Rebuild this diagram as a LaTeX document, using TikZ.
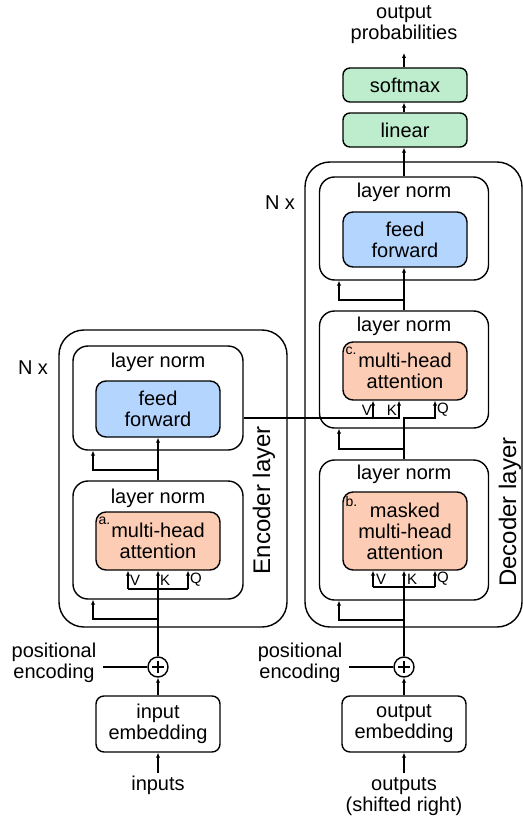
\documentclass[tikz,border=0pt]{standalone}
\usepackage{fontspec}
\setmainfont{Liberation Sans}
\usetikzlibrary{arrows.meta,calc}

\definecolor{ffblue}{RGB}{180,213,253}
\definecolor{attnorange}{RGB}{252,204,181}
\definecolor{outgreen}{RGB}{189,237,205}

\tikzset{
  every node/.style={font=\fontsize{20bp}{21bp}\selectfont, inner sep=0pt, align=center},
  wire/.style={line width=1.4bp},
  arr/.style={line width=1.4bp, -{Latex[length=5bp,width=4.5bp]}},
  layerbox/.style={draw, line width=1.4bp, rounded corners=25bp},
  normbox/.style={draw, line width=1.4bp, rounded corners=15bp},
  attnbox/.style={draw, line width=1.4bp, rounded corners=10bp, fill=attnorange},
  ffbox/.style={draw, line width=1.4bp, rounded corners=10bp, fill=ffblue},
  headbox/.style={draw, line width=1.4bp, rounded corners=7bp, fill=outgreen},
  embbox/.style={draw, line width=1.4bp, rounded corners=8bp},
  addnode/.style={draw, circle, line width=1.4bp, minimum size=20bp},
  port/.style={font=\fontsize{15bp}{15bp}\selectfont},
  tag/.style={font=\fontsize{14bp}{14bp}\selectfont, anchor=north west},
  sidelabel/.style={font=\fontsize{24bp}{24bp}\selectfont, rotate=90},
}

\begin{document}
\begin{tikzpicture}[x=1bp,y=-1bp]
\useasboundingbox (0,0) rectangle (523,818);

% ---------------- encoder ----------------
\node[layerbox, minimum width=228bp, minimum height=297bp] (encOuter) at (173,478.5) {};
\node (encN) at (33,368) {N x};
\node[sidelabel] (encSide) at (264,500) {Encoder layer};

\node[normbox, minimum width=170bp, minimum height=104bp] (encLNb) at (158,398) {};
\node (encLNbt) at ($(encLNb.north)+(0,17)$) {layer norm};
\node[ffbox, minimum width=124bp, minimum height=56bp] (encFF) at (158,409) {feed\\forward};

\node[normbox, minimum width=170bp, minimum height=118bp] (encLNa) at (158,540) {};
\node (encLNat) at ($(encLNa.north)+(0,18)$) {layer norm};
\node[attnbox, minimum width=124bp, minimum height=58bp] (encMHA) at (158,541) {multi-head\\attention};
\node[tag] (encTag) at ($(encMHA.north west)+(3,5)$) {a.};

\node[addnode] (encAdd) at (158,667) {};
\draw[wire] ($(encAdd)+(-6,0)$) -- ($(encAdd)+(6,0)$);
\draw[wire] ($(encAdd)+(0,-6)$) -- ($(encAdd)+(0,6)$);
\node (encPos) at (54,663) {positional\\encoding};
\coordinate (encPosEnd) at (103,667);

\node[embbox, minimum width=124bp, minimum height=56bp] (encEmb) at (158,724) {input\\embedding};
\node (encIn) at (158,785) {inputs};
\coordinate (encInTip) at (158,773);

% input side
\draw[arr] (encInTip) -- (encEmb.south);
\draw[arr] (encEmb.north) -- (encAdd.south);
\draw[wire] (encPosEnd) -- (encAdd.west);

% attention inputs V, K, Q
\draw[arr] (encAdd.north) -- (encMHA.south);
\coordinate (encV) at (128,589);
\coordinate (encQ) at (188,589);
\draw[wire] (encV) -- (encQ);
\draw[arr] (encV) -- (encV |- encMHA.south);
\draw[arr] (encQ) -- (encQ |- encMHA.south);
\node[port, anchor=west] (encVl) at (130,580) {V};
\node[port, anchor=west] (encKl) at (160,580) {K};
\node[port, anchor=west] (encQl) at (190,580) {Q};

% residual into first norm
\coordinate (encR1) at (93,619);
\draw[arr] (encR1 -| encAdd) -- (encR1) -- (encR1 |- encLNa.south);

% sublayer 1 -> feed forward, with residual
\draw[arr] (encLNa.north) -- (encFF.south);
\coordinate (encR2) at (93,470);
\draw[arr] (encR2 -| encAdd) -- (encR2) -- (encR2 |- encLNb.south);

% ---------------- decoder ----------------
\node[layerbox, minimum width=217bp, minimum height=465bp] (decOuter) at (413.5,394.5) {};
\node (decN) at (280,203) {N x};
\node[sidelabel] (decSide) at (510,512) {Decoder layer};

\node[normbox, minimum width=169bp, minimum height=103bp] (decLNc) at (404,228.5) {};
\node (decLNct) at ($(decLNc.north)+(0,16)$) {layer norm};
\node[ffbox, minimum width=124bp, minimum height=55bp] (decFF) at (405,239.5) {feed\\forward};

\node[normbox, minimum width=169bp, minimum height=117bp] (decLNb) at (404,369.5) {};
\node (decLNbt) at ($(decLNb.north)+(0,16)$) {layer norm};
\node[attnbox, minimum width=124bp, minimum height=58bp] (decMHAb) at (405,371) {multi-head\\attention};
\node[tag] (decTagc) at ($(decMHAb.north west)+(3,5)$) {c.};

\node[normbox, minimum width=169bp, minimum height=140bp] (decLNa) at (404,530) {};
\node (decLNat) at ($(decLNa.north)+(0,15)$) {layer norm};
\node[attnbox, minimum width=124bp, minimum height=78bp] (decMHAa) at (405,531) {masked\\multi-head\\attention};
\node[tag] (decTagb) at ($(decMHAa.north west)+(3,5)$) {b.};

\node[addnode] (decAdd) at (404,667) {};
\draw[wire] ($(decAdd)+(-6,0)$) -- ($(decAdd)+(6,0)$);
\draw[wire] ($(decAdd)+(0,-6)$) -- ($(decAdd)+(0,6)$);
\node (decPos) at (300,663) {positional\\encoding};
\coordinate (decPosEnd) at (349,667);

\node[embbox, minimum width=124bp, minimum height=56bp] (decEmb) at (404,724) {output\\embedding};
\node (decIn) at (404,796.5) {outputs\\(shifted right)};
\coordinate (decInTip) at (404,773);

% output head
\node[headbox, minimum width=124bp, minimum height=34bp] (linear) at (405,130) {linear};
\node[headbox, minimum width=124bp, minimum height=34bp] (softmax) at (405,85) {softmax};
\node (outProb) at (404,25) {output\\probabilities};
\coordinate (outTip) at (404,53);

% input side
\draw[arr] (decInTip) -- (decEmb.south);
\draw[arr] (decEmb.north) -- (decAdd.south);
\draw[wire] (decPosEnd) -- (decAdd.west);

% masked attention inputs
\draw[arr] (decAdd.north) -- (decAdd |- decMHAa.south);
\coordinate (decV1) at (373,587);
\coordinate (decQ1) at (435,587);
\draw[wire] (decV1) -- (decQ1);
\draw[arr] (decV1) -- (decV1 |- decMHAa.south);
\draw[arr] (decQ1) -- (decQ1 |- decMHAa.south);
\node[port, anchor=west] (decV1l) at (376,579) {V};
\node[port, anchor=west] (decK1l) at (407,579) {K};
\node[port, anchor=west] (decQ1l) at (437,579) {Q};

\coordinate (decR1) at (339,620);
\draw[arr] (decR1 -| decAdd) -- (decR1) -- (decR1 |- decLNa.south);

% cross attention: query from decoder, keys and values from encoder
\coordinate (decQ2) at (435,418);
\draw[arr] (decLNa.north) -- (decLNa.north |- decQ2) -- (decQ2) -- (decQ2 |- decMHAb.south);
\coordinate (decK2) at (399,418);
\coordinate (decV2) at (373,418);
\draw[arr] (encLNb.east |- decK2) -- (decK2) -- (decK2 |- decMHAb.south);
\draw[arr] (decV2) -- (decV2 |- decMHAb.south);
\node[port, anchor=east] (decV2l) at (372,410) {V};
\node[port, anchor=east] (decK2l) at (397,410) {K};
\node[port, anchor=west] (decQ2l) at (437,410) {Q};

\coordinate (decR2) at (339,449);
\draw[arr] (decR2 -| decAdd) -- (decR2) -- (decR2 |- decLNb.south);

% feed forward with residual
\draw[arr] (decLNb.north) -- (decLNb.north |- decFF.south);
\coordinate (decR3) at (339,300);
\draw[arr] (decR3 -| decAdd) -- (decR3) -- (decR3 |- decLNc.south);

% to the output head
\draw[arr] (decLNc.north) -- (decLNc.north |- linear.south);
\draw[arr] (linear.north -| decAdd) -- (decAdd |- softmax.south);
\draw[arr] (softmax.north -| decAdd) -- (outTip);
\end{tikzpicture}
\end{document}
